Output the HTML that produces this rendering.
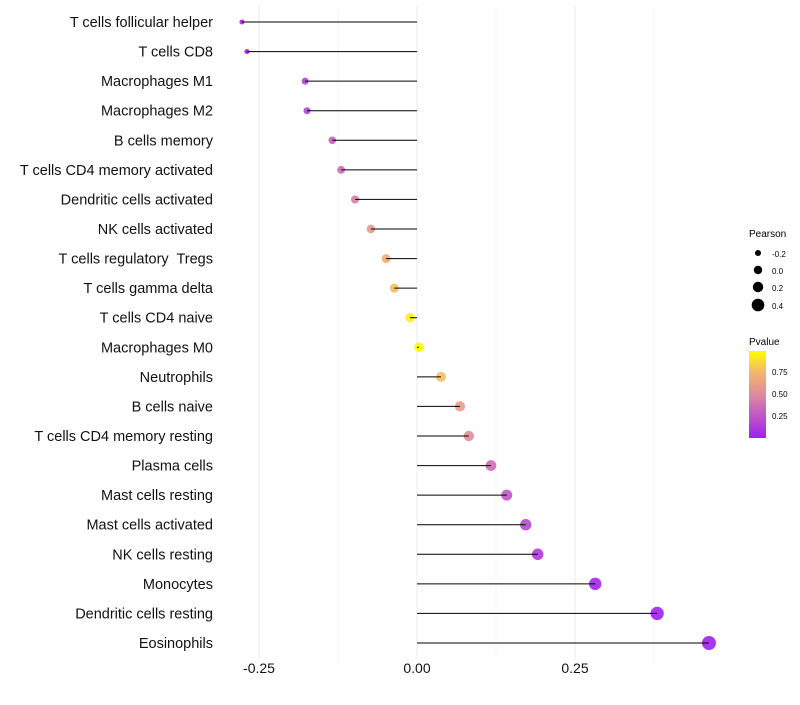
<!DOCTYPE html>
<html><head><meta charset="utf-8"><style>
body{margin:0;background:#fff;font-family:"Liberation Sans",Arial,sans-serif}
svg text{font-family:"Liberation Sans",Arial,sans-serif;white-space:pre}
</style></head><body>
<svg id="chart" width="800" height="700" xmlns="http://www.w3.org/2000/svg">
<defs><linearGradient id="pg" x1="0" y1="1" x2="0" y2="0">
<stop offset="0" stop-color="#a020f0"/><stop offset="0.5" stop-color="#df8a9e"/><stop offset="0.75" stop-color="#f2b56e"/><stop offset="1" stop-color="#ffff00"/></linearGradient></defs>
<g id="grid"></g>
<g id="marks"></g>
<g id="labels"></g>
<g id="ticks"></g>
<g>
<text x="749" y="237" font-size="10">Pearson</text>
<circle cx="758" cy="253" r="3" fill="#000"/><text x="772" y="257" font-size="8">-0.2</text>
<circle cx="758" cy="270" r="4.2" fill="#000"/><text x="772" y="274" font-size="8">0.0</text>
<circle cx="758" cy="287" r="5.2" fill="#000"/><text x="772" y="291" font-size="8">0.2</text>
<circle cx="758" cy="305" r="6.3" fill="#000"/><text x="772" y="309" font-size="8">0.4</text>
</g>
<g>
<text x="749" y="345" font-size="10">Pvalue</text>
<rect x="749" y="351" width="17" height="87" fill="url(#pg)"/>
<text x="772" y="375" font-size="8">0.75</text>
<text x="772" y="397" font-size="8">0.50</text>
<text x="772" y="419" font-size="8">0.25</text>
</g>
</svg>
<script>
const categories=["T cells follicular helper","T cells CD8","Macrophages M1","Macrophages M2","B cells memory","T cells CD4 memory activated","Dendritic cells activated","NK cells activated","T cells regulatory  Tregs","T cells gamma delta","T cells CD4 naive","Macrophages M0","Neutrophils","B cells naive","T cells CD4 memory resting","Plasma cells","Mast cells resting","Mast cells activated","NK cells resting","Monocytes","Dendritic cells resting","Eosinophils"];
const pearson=[-0.277,-0.269,-0.177,-0.174,-0.134,-0.120,-0.098,-0.073,-0.049,-0.036,-0.011,0.003,0.038,0.068,0.082,0.117,0.142,0.172,0.191,0.282,0.380,0.462];
const pvalue=[0.02,0.03,0.15,0.17,0.30,0.35,0.45,0.58,0.70,0.78,0.95,0.99,0.78,0.60,0.52,0.36,0.26,0.18,0.12,0.03,0.005,0.001];
const tickValues=[-0.25,0,0.25];
const tickLabels=["-0.25","0.00","0.25"];
const NS="http://www.w3.org/2000/svg";
const xs=v=>417+v*632;
const ys=i=>22+i*(621/(categories.length-1));
const rs=v=>Math.sqrt(Math.max(2,22.3+57.8*v));
function lerp(a,b,t){return a.map((x,i)=>Math.round(x+(b[i]-x)*t));}
function col(p){const st=[[0,[160,32,240]],[0.5,[223,138,158]],[0.75,[242,181,110]],[1,[255,255,0]]];
for(let k=1;k<st.length;k++){if(p<=st[k][0]){const t=(p-st[k-1][0])/(st[k][0]-st[k-1][0]);const c=lerp(st[k-1][1],st[k][1],t);return `rgb(${c})`;}}return "rgb(255,255,0)";}
function mk(t,a,p){const e=document.createElementNS(NS,t);for(const k in a)e.setAttribute(k,a[k]);p.appendChild(e);return e;}
const grid=document.getElementById('grid'),marks=document.getElementById('marks'),labels=document.getElementById('labels'),ticks=document.getElementById('ticks');
[-0.25,-0.125,0,0.125,0.25,0.375].forEach(v=>{const major=[-0.25,0,0.25].includes(v);const l=mk('line',{x1:xs(v),x2:xs(v),y1:5,y2:660,stroke:major?'#ebebeb':'#f4f4f4','stroke-width':major?1:0.8},grid);

});
categories.forEach((c,i)=>{
 const y=ys(i);
 const pt=mk('circle',{cx:xs(pearson[i]),cy:y,r:rs(pearson[i]),fill:col(pvalue[i]),'fill-opacity':0.9},marks);
 
 
 const sg=mk('line',{x1:xs(0),x2:xs(pearson[i]),y1:y,y2:y,stroke:'#000','stroke-width':1},marks);
 
 
 const t=mk('text',{x:213,y:y+5,'text-anchor':'end','font-size':14.5,fill:'#111'},labels);
 t.textContent=c;
 
 
});
tickValues.forEach((v,i)=>{const t=mk('text',{x:xs(v),y:673,'text-anchor':'middle','font-size':14,fill:'#111'},ticks);
t.textContent=tickLabels[i];

});
</script>
</body></html>
